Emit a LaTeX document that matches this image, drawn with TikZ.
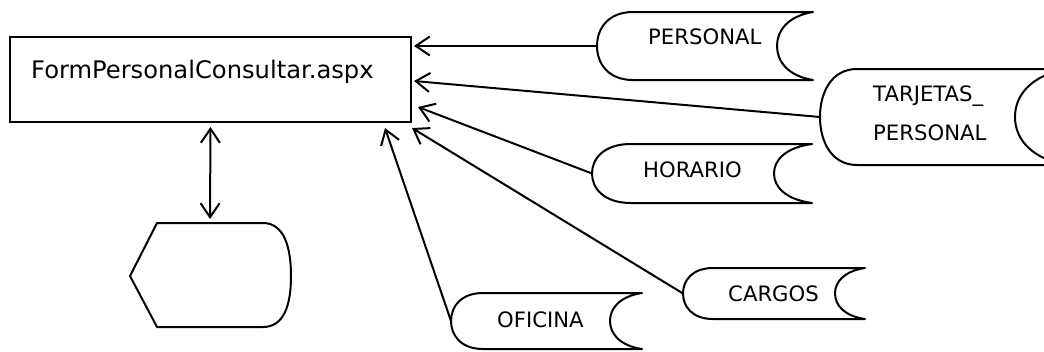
\documentclass[tikz,border=0pt]{standalone}
\usepackage{fontspec}
\setmainfont{DejaVu Sans}
\usetikzlibrary{arrows.meta}
\tikzset{
  line/.style={line width=2pt, line join=round},
  tip/.style={Straight Barb[length=14pt,width=19pt,line width=2pt]},
  flow/.style={line, -{Straight Barb[length=14pt,width=19pt,line width=2pt]}},
  both/.style={line, {Straight Barb[length=14pt,width=19pt,line width=2pt]}-{Straight Barb[length=14pt,width=19pt,line width=2pt]}},
  lbl/.style={inner sep=0pt, anchor=base west, font=\fontsize{21.2}{21.2}\selectfont},
}
% stored data shape: #1 left x, #2 top y, #3 bottom y, #4 convex inset, #5 right x, #6 concave depth
\newcommand\storedshape[6]{%
  \pgfmathsetmacro\yc{(#2+#3)/2}%
  \pgfmathsetmacro\hh{(#3-#2)/2}%
  \draw[line] (#1+#4,#2) -- (#5,#2)
    .. controls (#5-0.7*#6,#2+0.12*\hh) and (#5-#6,\yc-0.45*\hh) .. (#5-#6,\yc)
    .. controls (#5-#6,\yc+0.45*\hh) and (#5-0.7*#6,#3-0.12*\hh) .. (#5,#3)
    -- (#1+#4,#3)
    .. controls (#1+0.3*#4,#3) and (#1,\yc+0.5*\hh) .. (#1,\yc)
    .. controls (#1,\yc-0.5*\hh) and (#1+0.3*#4,#2) .. cycle;%
}
\begin{document}
\begin{tikzpicture}[x=1pt,y=-1pt]
\useasboundingbox (0,0) rectangle (1044,351);
% main form
\node[draw, line width=2pt, minimum width=401pt, minimum height=85pt, inner sep=0pt] (form) at (210.5,79.5) {};
\node[inner sep=0pt, anchor=base west, font=\fontsize{24.2}{24.2}\selectfont] (formtxt) at (31,78) {FormPersonalConsultar.aspx};
% display shape
\draw[line] (157,223) -- (130,276) -- (157,327) -- (263,327)
  .. controls (284,327) and (291,305) .. (291,276)
  .. controls (291,247) and (284,223) .. (263,223) -- cycle;
\coordinate (disp) at (210,223);
% stored data
\storedshape{597}{12}{80}{36}{813}{36}
\storedshape{820}{69}{165}{37}{1068}{53}
\storedshape{592}{144}{203}{39}{812}{38}
\storedshape{683}{268}{319}{30}{865}{30}
\storedshape{451}{293}{349}{32}{642}{32}
\coordinate (personal) at (597,46);
\coordinate (tarjetas) at (820,117);
\coordinate (horario) at (592,173.5);
\coordinate (cargos) at (683,293.5);
\coordinate (oficina) at (451,321);
\node[lbl] (tpersonal) at (648,44) {PERSONAL};
\node[lbl] (ttarj1) at (873,101.5) {TARJETAS\_};
\node[lbl] (ttarj2) at (873,140) {PERSONAL};
\node[lbl] (thorario) at (643,177) {HORARIO};
\node[lbl] (tcargos) at (728,301) {CARGOS};
\node[lbl] (toficina) at (497,327) {OFICINA};
% arrow tips at the form
\coordinate (inP) at (414,46);
\coordinate (inT) at (414,81);
\coordinate (inH) at (418,107);
\coordinate (inC) at (412,128);
\coordinate (inO) at (385,128);
\draw[flow] (personal) -- (inP);
\draw[flow] (tarjetas) -- (inT);
\draw[flow] (horario) -- (inH);
\draw[flow] (cargos) -- (inC);
\draw[flow] (oficina) -- (inO);
\draw[both, shorten <=4pt, shorten >=4pt] (form.south) -- (disp);
\end{tikzpicture}
\end{document}
